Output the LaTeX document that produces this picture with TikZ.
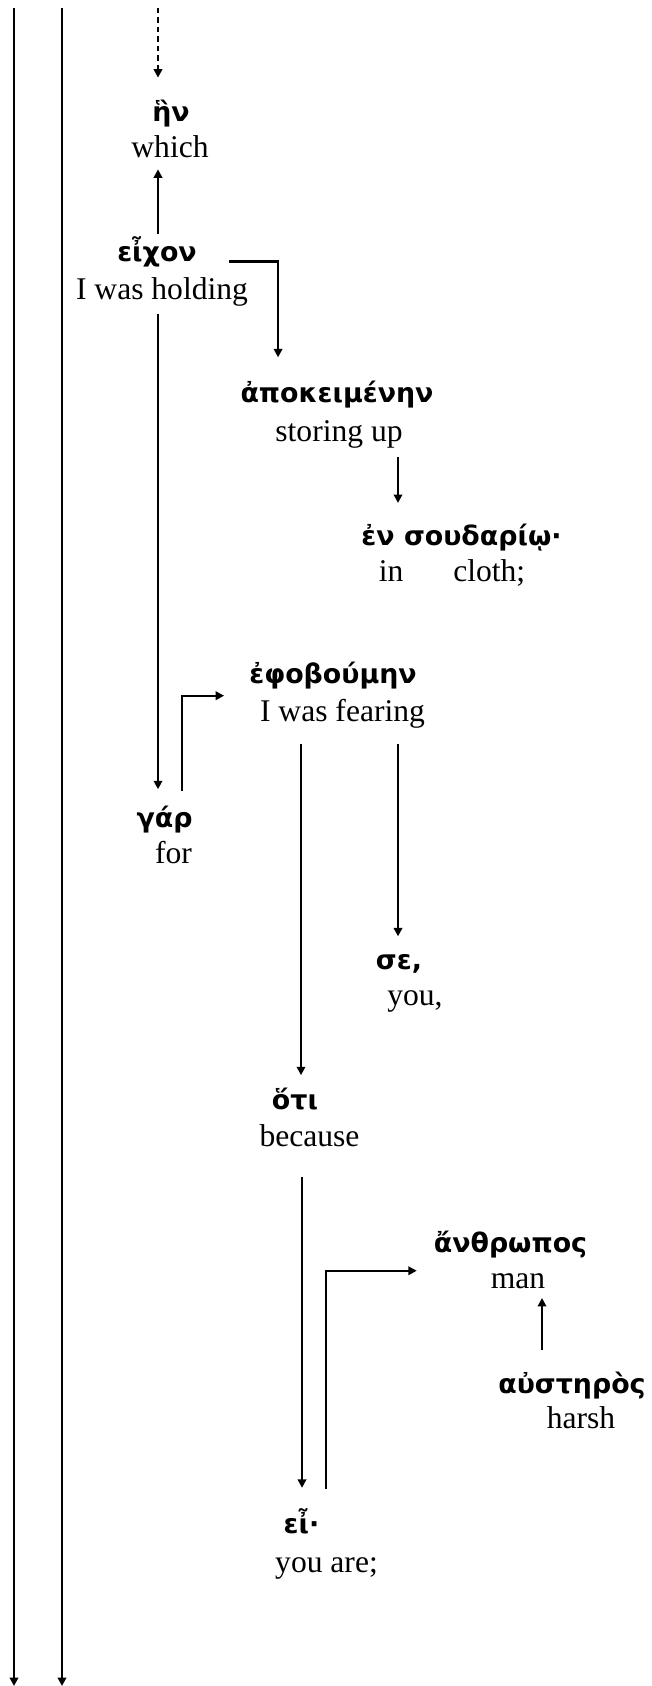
\documentclass[tikz,border=0pt]{standalone}
\usepackage{fontspec}
\setmainfont{Liberation Serif}
\newfontfamily\greekfont{DejaVu Sans}[BoldFont={DejaVu Sans Bold}]
\usepackage{tikz}
\usetikzlibrary{arrows.meta}

\begin{document}
\begin{tikzpicture}[x=0.38pt,y=-0.38pt,
  gr/.style={font=\greekfont\bfseries\fontsize{10.2}{12}\selectfont,anchor=base,inner sep=1pt},
  en/.style={font=\fontsize{12}{14}\selectfont,anchor=base,inner sep=1pt},
  conn/.style={-{Triangle[length=3.2pt,width=3.2pt]},line width=0.8pt}]
\useasboundingbox (0,0) rectangle (651,1686);

% Margin lines
\foreach \x in {14,62}
  \draw[conn] (\x,8) -- (\x,1686);

% Words
\node[gr] (hen) at (171,122) {ἣν};
\node[en] (which) at (170,158) {which};
\node[gr] (eichon) at (157,262) {εἶχον};
\node[en] (holding) at (162,300) {I was holding};
\node[gr] (apok) at (337,403) {ἀποκειμένην};
\node[en] (storing) at (339,442) {storing up};
\node[gr] (soud) at (461.5,546) {ἐν σουδαρίῳ·};
\node[en] (cloth) at (452,582) {in\hspace*{19pt}cloth;};
\node[gr] (efob) at (333,683) {ἐφοβούμην};
\node[en] (fearing) at (342.5,721) {I was fearing};
\node[gr] (gar) at (164.5,827) {γάρ};
\node[en] (for) at (173.5,863) {for};
\node[gr] (se) at (399,969) {σε,};
\node[en] (you) at (415,1005) {you,};
\node[gr] (hoti) at (295,1109) {ὅτι};
\node[en] (because) at (309.5,1146) {because};
\node[gr] (anthr) at (510.5,1252) {ἄνθρωπος};
\node[en] (man) at (518,1288) {man};
\node[gr] (aust) at (572,1393) {αὐστηρὸς};
\node[en] (harsh) at (581,1428) {harsh};
\node[gr] (ei) at (301.5,1533) {εἶ·};
\node[en] (youare) at (326.5,1572) {you are;};

% Connectors
\coordinate (dtop) at (158,8);
\draw[conn,dashed,dash pattern=on 2pt off 1.6pt,shorten >=7.5pt] (dtop) -- (dtop |- hen.north);
\draw[conn,shorten >=3pt] (158,0 |- eichon.north) -- (158,0 |- which.south);
\draw[conn,shorten >=8pt] ([xshift=11pt,yshift=-3.5pt]eichon.east) -| ([xshift=-22.4pt]apok.north);
\draw[conn,shorten <=1.5pt,shorten >=5pt] (158,0 |- holding.south) -- (158,0 |- gar.north);
\draw[conn,shorten <=4.5pt,shorten >=8.4pt] (182,0 |- gar.north) |- ([yshift=-1.5pt]efob.south west);
\draw[conn,shorten <=2pt,shorten >=7pt] (398,0 |- storing.south) -- (398,0 |- soud.north);
\draw[conn,shorten <=5pt,shorten >=3.5pt] (301,0 |- fearing.south) -- (301,0 |- hoti.north);
\draw[conn,shorten <=5pt,shorten >=5.5pt] (398,0 |- fearing.south) -- (398,0 |- se.north);
\draw[conn,shorten <=10.5pt,shorten >=6.5pt] (302,0 |- because.south) -- (302,0 |- ei.north);
\draw[conn,shorten <=6pt,shorten >=5.3pt] (326,0 |- ei.north) |- ([yshift=-3.8pt]anthr.south west);
\draw[conn,shorten <=7pt,shorten >=2.5pt] (542,0 |- aust.north) -- (542,0 |- man.south);
\end{tikzpicture}
\end{document}
